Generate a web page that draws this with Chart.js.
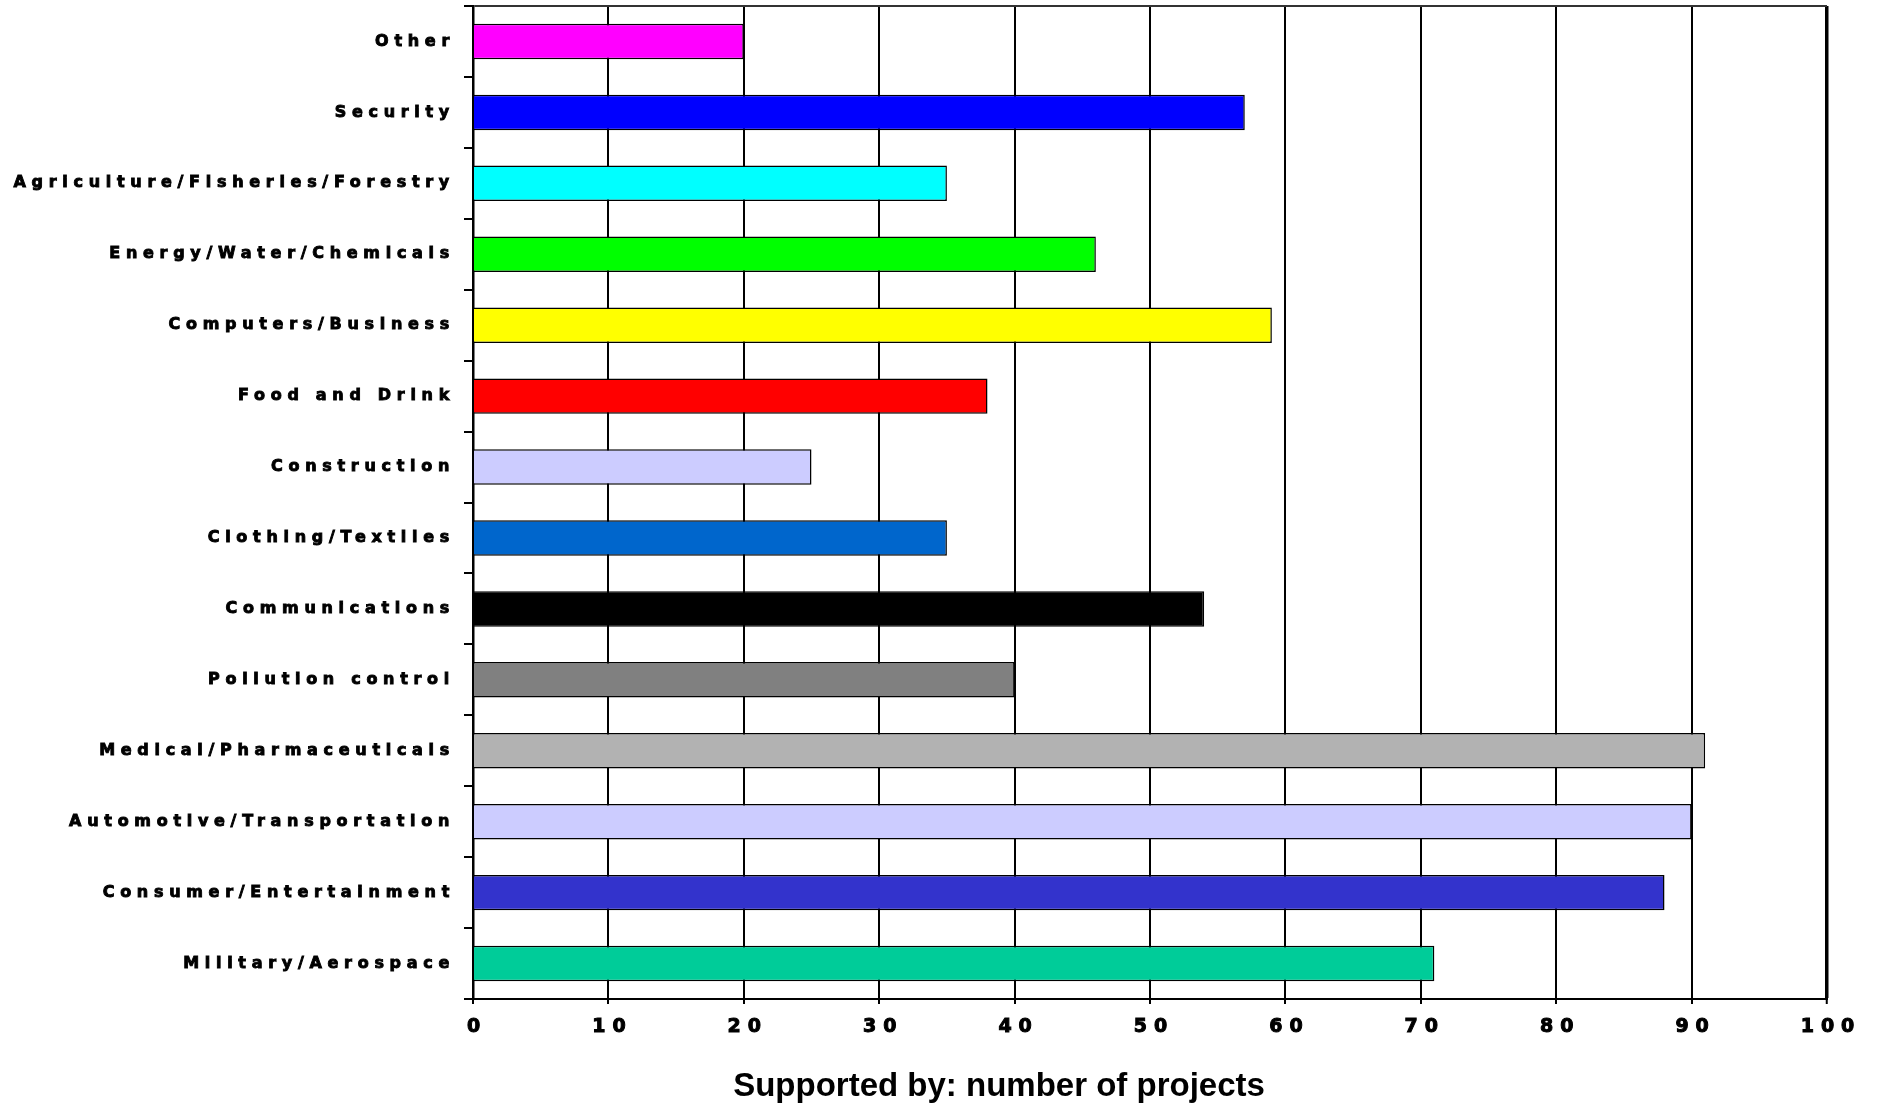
<!DOCTYPE html>
<html>
<head>
<meta charset="utf-8">
<title>Supported by: number of projects</title>
<script src="https://cdn.jsdelivr.net/npm/chart.js@4/dist/chart.umd.min.js"></script>
<style>
  html, body { margin: 0; padding: 0; background: #ffffff; }
  #wrap { width: 1879px; height: 1105px; }
</style>
</head>
<body>
<div id="wrap"><canvas id="chart" width="1879" height="1105"></canvas></div>
<script>
// Sectors, listed top to bottom
const sectors = [
  'Other',
  'Security',
  'Agriculture/Fisheries/Forestry',
  'Energy/Water/Chemicals',
  'Computers/Business',
  'Food and Drink',
  'Construction',
  'Clothing/Textiles',
  'Communications',
  'Pollution control',
  'Medical/Pharmaceuticals',
  'Automotive/Transportation',
  'Consumer/Entertainment',
  'Military/Aerospace'
];

// Number of supporting projects per sector
const projectCounts = [20, 57, 35, 46, 59, 38, 25, 35, 54, 40, 91, 90, 88, 71];

// Fill colour for each sector bar
const sectorColors = [
  '#FF00FF', '#0000FF', '#00FFFF', '#00FF00', '#FFFF00', '#FF0000', '#CCCCFF',
  '#0066CC', '#000000', '#808080', '#B2B2B2', '#CCCCFF', '#3333CC', '#00CC99'
];

// Value axis range and step
const axisMin = 0;
const axisMax = 100;
const axisStep = 10;

const axisTitle = 'Supported by: number of projects';

// Extra spacing between characters of the tick labels, per scale
const labelSpacing = { x: 7, y: 5.7 };

// Draws tick labels with wide character spacing and lets the long
// category names run past the left edge of the axis box.
const spacedLabels = {
  id: 'spacedLabels',
  beforeDraw(chart) {
    Object.values(chart.scales).forEach(scale => {
      if (scale._spacedWrap) return;
      const original = scale.drawLabels;
      scale._computeLabelArea = () => undefined;
      scale.drawLabels = function (area) {
        const ctx = this.ctx;
        const previous = ctx.letterSpacing;
        ctx.letterSpacing = (labelSpacing[this.id] || 0) + 'px';
        original.call(this, area);
        ctx.letterSpacing = previous || '0px';
      };
      scale._spacedWrap = true;
    });
  }
};

new Chart(document.getElementById('chart'), {
  type: 'bar',
  data: {
    labels: sectors,
    datasets: [{
      data: projectCounts,
      backgroundColor: sectorColors,
      borderColor: '#000000',
      borderWidth: 1.5,
      barPercentage: 0.5,
      categoryPercentage: 1.0
    }]
  },
  plugins: [spacedLabels],
  options: {
    indexAxis: 'y',
    responsive: false,
    animation: false,
    devicePixelRatio: 1,
    layout: { padding: { top: 6, right: 52, bottom: 0, left: 171 } },
    plugins: {
      legend: { display: false },
      tooltip: { enabled: false },
      title: {
        display: true,
        position: 'bottom',
        text: axisTitle,
        color: '#000000',
        font: { family: '"Liberation Sans", Arial, sans-serif', size: 33, weight: 'bold', lineHeight: 1.1 },
        padding: { top: 0, bottom: 0 }
      }
    },
    scales: {
      x: {
        type: 'linear',
        position: 'bottom',
        min: axisMin,
        max: axisMax,
        ticks: {
          stepSize: axisStep,
          color: '#000000',
          textStrokeColor: '#000000',
          textStrokeWidth: 1,
          padding: 12,
          labelOffset: 4,
          maxRotation: 0,
          autoSkip: false,
          z: 1,
          font: { family: '"DejaVu Sans", sans-serif', size: 19, weight: 'bold' }
        },
        grid: {
          color: '#000000',
          lineWidth: ctx => (ctx.tick && ctx.tick.value === axisMax ? 3.5 : 2),
          tickLength: 5,
          tickColor: '#000000',
          tickWidth: 2
        },
        border: { display: true, color: '#000000', width: 2 },
        afterFit(scale) {
          scale.height = 69.7;
          scale.paddingLeft = 0;
          scale.paddingRight = 0;
        }
      },
      y: {
        type: 'category',
        ticks: {
          color: '#000000',
          textStrokeColor: '#000000',
          textStrokeWidth: 0.9,
          padding: 9,
          autoSkip: false,
          z: 1,
          font: { family: '"DejaVu Sans", sans-serif', size: 16, weight: 'bold' }
        },
        grid: {
          offset: true,
          drawOnChartArea: true,
          color: ctx => (ctx.index === 0 ? '#333333' : 'rgba(0,0,0,0)'),
          lineWidth: 2,
          tickLength: 9,
          tickColor: '#000000',
          tickWidth: 2
        },
        border: { display: true, color: '#000000', width: 2.5 },
        afterFit(scale) {
          scale.width = 302;
          scale.paddingTop = 0;
          scale.paddingBottom = 0;
        }
      }
    }
  }
});
</script>
</body>
</html>
